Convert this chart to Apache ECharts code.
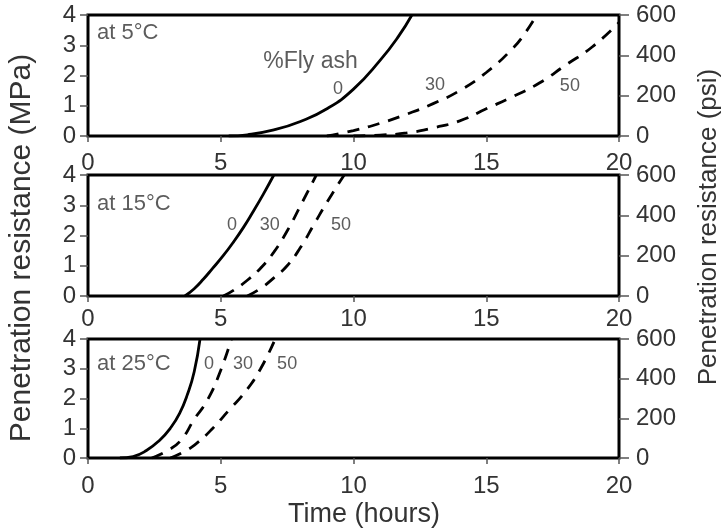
<!DOCTYPE html>
<html>
<head>
<meta charset="utf-8">
<script src="https://cdn.jsdelivr.net/npm/echarts@6/dist/echarts.min.js"></script>
<style>
html, body { margin: 0; padding: 0; background: #fff; }
#chart { width: 723px; height: 530px; }
</style>
</head>
<body>
<div id="chart"></div>
<script>
// values: [time (hours), penetration resistance (MPa)]
var panelNames = ['at 5°C', 'at 15°C', 'at 25°C'];
var flyAsh = ['0', '30', '50'];

var at5_0  = [[5.3, 0], [6, 0.04], [7, 0.2], [8, 0.48], [9, 0.9], [10, 1.55], [11, 2.5], [11.7, 3.3], [12.2, 4]];
var at5_30 = [[9, 0], [10, 0.18], [11, 0.42], [12, 0.72], [13, 1.07], [14, 1.5], [15, 2.1], [16, 2.9], [16.5, 3.45], [16.9, 4]];
var at5_50 = [[10, 0], [11, 0.03], [12, 0.1], [13, 0.27], [14, 0.5], [15, 0.9], [16, 1.3], [17, 1.75], [18, 2.35], [19, 2.95], [20, 3.75]];

var at15_0  = [[3.65, 0], [4, 0.24], [4.35, 0.56], [4.7, 0.92], [5.1, 1.34], [5.46, 1.76], [5.85, 2.26], [6.2, 2.76], [6.6, 3.36], [7, 4]];
var at15_30 = [[5.1, 0], [5.5, 0.2], [6, 0.52], [6.5, 0.92], [7, 1.45], [7.5, 2.15], [8, 2.98], [8.6, 4]];
var at15_50 = [[6, 0], [6.5, 0.25], [7, 0.6], [7.5, 1.0], [8, 1.6], [8.5, 2.35], [9, 3.1], [9.65, 4]];

var at25_0  = [[1.2, 0], [1.7, 0.05], [2.2, 0.25], [2.7, 0.6], [3.1, 1.0], [3.45, 1.5], [3.75, 2.15], [4.0, 2.9], [4.22, 4]];
var at25_30 = [[2.4, 0], [3, 0.25], [3.5, 0.6], [4, 1.3], [4.5, 1.95], [5, 2.95], [5.4, 4]];
var at25_50 = [[3.1, 0], [3.6, 0.2], [4.1, 0.5], [4.7, 1.0], [5.3, 1.6], [5.9, 2.2], [6.5, 3.0], [7.05, 4]];

var curves = [
	[at5_0, at5_30, at5_50],
	[at15_0, at15_30, at15_50],
	[at25_0, at25_30, at25_50]
];

var FONT = '"Liberation Sans", Arial, sans-serif';
var grids = [
	{ left: 88, top: 15, width: 531, height: 121 },
	{ left: 88, top: 175, width: 531, height: 121 },
	{ left: 88, top: 339, width: 531, height: 119 }
];
var xLabelMargin = [15, 11, 16];

// where the annotations sit, in data units of each panel
var titleAt = [[0.34, 3.4], [0.34, 3.05], [0.34, 3.16]];
var flyAshAt = [
	[[9.42, 1.55], [13.07, 1.69], [18.15, 1.65]],
	[[5.42, 2.35], [6.85, 2.35], [9.53, 2.35]],
	[[4.56, 3.16], [5.84, 3.16], [7.5, 3.16]]
];

var xAxes = [], yAxes = [], series = [];

grids.forEach(function(g, i)
{
	g.show = true;
	g.borderColor = '#000';
	g.borderWidth = 3;
	g.backgroundColor = 'transparent';

	xAxes.push({
		type: 'value', gridIndex: i, min: 0, max: 20, interval: 5,
		axisLine: { show: false },
		axisTick: { show: true, length: 6, lineStyle: { color: '#555', width: 1.5 } },
		axisLabel: { margin: xLabelMargin[i], fontSize: 24, color: '#333', fontFamily: FONT },
		splitLine: { show: false }
	});
});

grids.forEach(function(g, i)
{
	yAxes.push({
		type: 'value', gridIndex: i, position: 'left', min: 0, max: 4, interval: 1,
		axisLine: { show: false },
		axisTick: { show: true, length: 8, lineStyle: { color: '#555', width: 1.5 } },
		axisLabel: { margin: 12, fontSize: 24, color: '#333', fontFamily: FONT },
		splitLine: { show: false }
	});
});

grids.forEach(function(g, i)
{
	yAxes.push({
		type: 'value', gridIndex: i, position: 'right', min: 0, max: 600, interval: 200,
		axisLine: { show: false },
		axisTick: { show: true, length: 10, lineStyle: { color: '#555', width: 1.5 } },
		axisLabel: { margin: 17, fontSize: 24, color: '#333', fontFamily: FONT },
		splitLine: { show: false }
	});
});

curves.forEach(function(set, i)
{
	set.forEach(function(data, k)
	{
		series.push({
			type: 'line', xAxisIndex: i, yAxisIndex: i,
			data: data, smooth: 0.5, symbol: 'none', silent: true,
			lineStyle: { color: '#000', width: 2.8, type: k === 0 ? 'solid' : [12, 9] }
		});
	});

	var labels = [{ value: titleAt[i], name: panelNames[i], pos: 'right', size: 22 }];
	if (i === 0)
		labels.push({ value: [6.6, 2.45], name: '%Fly ash', pos: 'right', size: 23 });
	flyAsh.forEach(function(f, k)
	{
		labels.push({ value: flyAshAt[i][k], name: f, pos: 'inside', size: 18 });
	});

	series.push({
		type: 'scatter', xAxisIndex: i, yAxisIndex: i, symbolSize: 0, silent: true,
		data: labels.map(function(l)
		{
			return {
				value: l.value, name: l.name,
				label: { show: true, position: l.pos, distance: 0, formatter: '{b}',
					fontSize: l.size, color: '#333', fontFamily: FONT }
			};
		})
	});
});

var chart = echarts.init(document.getElementById('chart'));
chart.setOption({
	animation: false,
	backgroundColor: '#fff',
	grid: grids,
	xAxis: xAxes,
	yAxis: yAxes,
	series: series,
	graphic: [
		{ type: 'text', x: 22, y: 248, rotation: Math.PI / 2,
			style: { text: 'Penetration resistance (MPa)', fontSize: 30, fontFamily: FONT, fill: '#333', align: 'center', verticalAlign: 'middle' } },
		{ type: 'text', x: 709, y: 227, rotation: Math.PI / 2,
			style: { text: 'Penetration resistance (psi)', fontSize: 26, fontFamily: FONT, fill: '#333', align: 'center', verticalAlign: 'middle' } },
		{ type: 'text', x: 364, y: 515,
			style: { text: 'Time (hours)', fontSize: 27, fontFamily: FONT, fill: '#333', align: 'center', verticalAlign: 'middle' } }
	]
});
</script>
</body>
</html>
